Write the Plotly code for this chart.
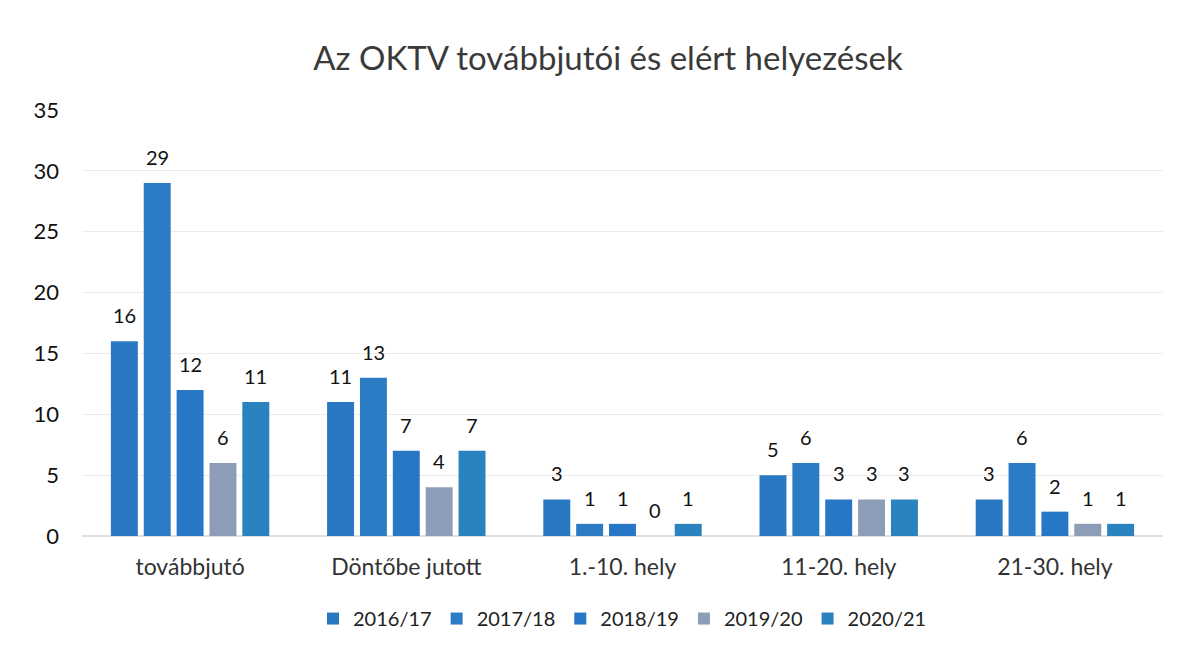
import plotly.graph_objects as go

categories = ["továbbjutó", "Döntőbe jutott", "1.-10. hely", "11-20. hely", "21-30. hely"]
series_names = ["2016/17", "2017/18", "2018/19", "2019/20", "2020/21"]
v_2016 = [16, 11, 3, 5, 3]
v_2017 = [29, 13, 1, 6, 6]
v_2018 = [12, 7, 1, 3, 2]
v_2019 = [6, 4, 0, 3, 1]
v_2020 = [11, 7, 1, 3, 1]
y_ticks = [0, 5, 10, 15, 20, 25, 30, 35]

values = [v_2016, v_2017, v_2018, v_2019, v_2020]
colors = ["#2a78c2", "#2b7cc4", "#2877c6", "#8d9db8", "#2a82bf"]

W, H = 1200, 652
ML, MR, MT, MB = 74, 45, 102, 124
BARGAP = 0.24

fig = go.Figure()
for name, vals, col in zip(series_names, values, colors):
    fig.add_trace(go.Bar(
        x=categories, y=vals, name=name,
        marker=dict(color=col, line=dict(width=0)),
    ))

# data labels (above bars, with a bit of padding like the original)
plot_w = W - ML - MR
slot = plot_w / len(categories) * (1 - BARGAP) / len(series_names)
n = len(series_names)
for i, vals in enumerate(values):
    for cat, v in zip(categories, vals):
        fig.add_annotation(
            x=cat, y=v, text=str(v), showarrow=False,
            xanchor="center", yanchor="bottom",
            xshift=(i - (n - 1) / 2) * slot, yshift=12,
            font=dict(size=20, color="#111111", family="Lato"),
        )

fig.update_layout(
    width=W, height=H,
    paper_bgcolor="white", plot_bgcolor="white",
    font=dict(family="Lato", color="#222222"),
    title=dict(text="Az OKTV továbbjutói és elért helyezések", x=0.5, xanchor="center",
               y=0.922, yanchor="middle",
               font=dict(size=33, color="#3a3a3a", family="Lato")),
    barmode="group", bargap=BARGAP, bargroupgap=0.18,
    margin=dict(l=ML, r=MR, t=MT, b=MB),
    showlegend=True,
    legend=dict(orientation="h", x=0.5, xanchor="center", y=-0.148, yanchor="top",
                font=dict(size=20, color="#222222", family="Lato"),
                traceorder="normal"),
    xaxis=dict(showline=False, ticks="", tickfont=dict(size=23, color="#333333"),
               showgrid=False, ticklabelstandoff=15),
    yaxis=dict(range=[0, 35], tickvals=y_ticks, showgrid=True, gridcolor="#ebebeb",
               gridwidth=1, zeroline=True, zerolinecolor="#e0e0e0",
               tickfont=dict(size=22, color="#111111"), ticks="", ticklabelstandoff=22),
)

fig.write_html("out.html")
